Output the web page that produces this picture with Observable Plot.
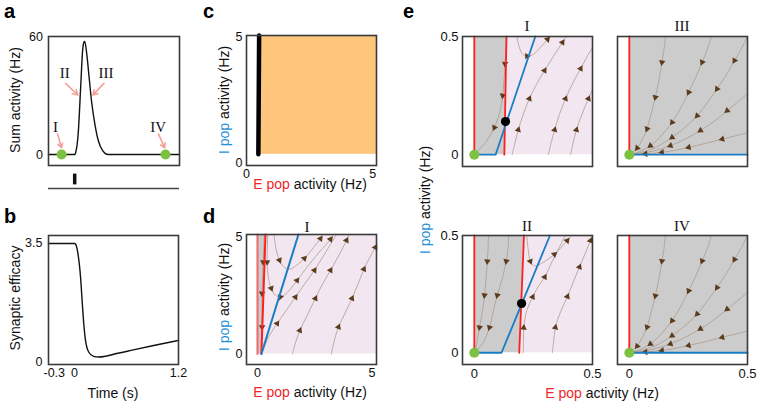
<!DOCTYPE html>
<html><head><meta charset="utf-8">
<script src="https://cdn.jsdelivr.net/npm/d3@7"></script>
<script src="https://cdn.jsdelivr.net/npm/@observablehq/plot@0.6"></script>
<style>
body{margin:0;background:#fff}
#fig{position:relative;width:760px;height:405px;overflow:hidden;background:#fff;font-family:"Liberation Sans",Arial,sans-serif}
#fig svg{position:absolute;left:0;top:0}
.lbl{position:absolute;white-space:nowrap;line-height:1;font-size:14px;color:#111;transform:translate(-50%,-50%)}
.rot{transform:translate(-50%,-50%) rotate(-90deg)}
.ser{font-family:"Liberation Serif","Times New Roman",serif;font-size:15px}
.let{position:absolute;font-weight:bold;font-size:20px;line-height:1;color:#000}
.E{color:#f0262b}.Ip{color:#2290d8}
</style></head><body><div id="fig"></div>
<script>
// ---------- data ----------
// panel a : summed activity vs time
const aTime = [-0.3,-0.05,0,0.012,0.04,0.07,0.09,0.105,0.115,0.138,0.165,0.192,0.23,0.27,0.32,0.38,1.2];
const aSum  = [0,0,0,1.2,10.7,36,53,57.5,58,51.6,39.6,27.7,15.9,7.2,2,0,0];
const aDotTime = [-0.15, 1.04];
const aDotSum = [0, 0];
const aLabelText = ["I","II","III","IV"];
const aLabelTime = [-0.219,-0.115,0.358,0.957];
const aLabelSum = [13.8,41.5,41.5,13.8];
const aArrowT1 = [-0.196,-0.104,0.335,0.96];
const aArrowS1 = [10.5,36.5,36.5,10.5];
const aArrowT2 = [-0.152,0.035,0.208,1.03];
const aArrowS2 = [3.5,30.5,30.5,3.5];
const stimOnset = [0];
const aTicksY = [0, 60];

// panel b : synaptic efficacy
const bTime = [-0.3,-0.1,0,0.01,0.04,0.07,0.088,0.107,0.127,0.165,0.22,0.28,0.5,0.68,0.9,1.2];
const bEff  = [3.5,3.5,3.5,3.49,3.2,2.5,1.82,1.14,0.65,0.3,0.18,0.16,0.27,0.37,0.49,0.65];
const bTicksX = [0, 1.2];
const bTickStart = [-0.3];
const bTicksY = [0, 3.5];

// panel c
const cRegionE = [0.44, 5.15];
const cRegionI = [0.36, 5.05];
const cLineE = [0.47, 0.5];
const cLineI = [0.36, 5.05];
const cTicks = [0, 5];

// panel d
const dRedE = [0.17, 0.35];
const dRedI = [0, 5.1];
const dBlueE = [0.17, 1.79];
const dBlueI = [0, 5.1];
const dTicks = [0, 5];
const dStreams = [
 [[0.3,5.1],[0.27,4.5],[0.25,3.92,1],[0.22,3.2],[0.2,2.58,1],[0.2,1.8],[0.2,1.15,1],[0.19,0.5],[0.17,0.05]],
 [[0.45,5.1],[0.43,4.5],[0.42,3.92,1],[0.47,3.3],[0.6,2.8,1],[0.78,2.52],[1.0,2.43,1],[1.3,2.62],[1.73,3.14,1],[2.2,3.75],[2.7,4.35],[3.19,4.9,1],[3.3,5.1]],
 [[0.72,5.1],[0.82,4.45],[0.96,4.0,1],[1.15,3.72],[1.4,3.62],[1.7,3.78],[2.05,4.08,1],[2.45,4.55],[2.75,4.92,1],[2.85,5.1]],
 [[0.22,0.1],[0.5,0.75],[0.86,1.3,1],[1.25,1.85],[1.66,2.43,1],[2.07,3.0],[2.49,3.57,1],[2.95,4.3],[3.45,5.1]],
 [[1.53,0],[1.65,0.45],[1.85,1.0,1],[2.2,1.7],[2.53,2.37,1],[2.85,3.0],[3.19,3.57,1],[3.55,4.2],[3.89,4.85,1],[4.0,5.1]],
 [[3.23,0],[3.35,0.55],[3.54,1.15,1],[3.83,1.75],[4.13,2.37,1],[4.4,3.0],[4.65,3.62,1],[4.9,4.1],[5.15,4.55,1],[5.3,4.8]]
];

// panel e
const eTicks = [0, 0.5];
const eRedI = [0, 0.5];
const eIRedE = [0.127, 0.136];
const eIBlueE = [0, 0.09, 0.258];
const eBlueI = [0, 0, 0.5];
const eIFixed = [0.132, 0.14];
const eIIRedE = [0.19, 0.21];
const eIIBlueE = [0, 0.115, 0.32];
const eIIFixed = [0.2, 0.21];
const eIStreams = [
 [[0.135,0.5],[0.133,0.44],[0.13,0.385,1],[0.126,0.32],[0.12,0.25,1],[0.108,0.18],[0.085,0.115,1],[0.05,0.055],[0.008,0.008]],
 [[0.18,0.5],[0.19,0.455],[0.205,0.425],[0.223,0.417,1],[0.25,0.425],[0.28,0.455],[0.31,0.488,1],[0.32,0.5]],
 [[0.16,0],[0.172,0.05],[0.186,0.105,1],[0.207,0.17],[0.233,0.237,1],[0.263,0.298],[0.297,0.356,1],[0.335,0.416],[0.373,0.475,1],[0.39,0.5]],
 [[0.313,0],[0.325,0.05],[0.34,0.105,1],[0.36,0.17],[0.386,0.237,1],[0.415,0.3],[0.45,0.364,1],[0.48,0.42],[0.51,0.47]],
 [[0.407,0],[0.418,0.05],[0.432,0.105,1],[0.455,0.17],[0.483,0.237,1],[0.51,0.3]]
];
const eIIStreams = [
 [[0.06,0.5],[0.058,0.44],[0.055,0.39,1],[0.05,0.32],[0.043,0.245,1],[0.034,0.175],[0.022,0.108,1],[0.01,0.04],[0.003,0.005]],
 [[0.145,0.5],[0.142,0.44],[0.135,0.39,1],[0.118,0.315],[0.097,0.245,1],[0.08,0.175],[0.064,0.108,1],[0.035,0.04],[0.005,0.005]],
 [[0.222,0.5],[0.228,0.44],[0.237,0.39,1],[0.255,0.37],[0.29,0.385],[0.339,0.42,1],[0.37,0.452],[0.393,0.478,1],[0.41,0.5]],
 [[0.207,0],[0.208,0.05],[0.209,0.107,1],[0.222,0.18],[0.247,0.238,1],[0.272,0.285],[0.298,0.323,1],[0.33,0.39],[0.36,0.45],[0.385,0.5]],
 [[0.33,0],[0.336,0.05],[0.343,0.108,1],[0.365,0.175],[0.394,0.24,1],[0.42,0.305],[0.445,0.366,1],[0.47,0.425],[0.491,0.478,1],[0.5,0.5]]
];
const eSinkStreams = [
 [[0.153,0.5],[0.146,0.44],[0.138,0.391,1],[0.126,0.32],[0.11,0.243,1],[0.093,0.175],[0.075,0.109,1],[0.05,0.055],[0.033,0.028,1],[0.008,0.005]],
 [[0.347,0.5],[0.33,0.445],[0.308,0.391,1],[0.281,0.327],[0.251,0.264,1],[0.218,0.198],[0.181,0.137,1],[0.135,0.08],[0.089,0.038,1],[0.045,0.014],[0.008,0.002]],
 [[0.5,0.5],[0.475,0.45],[0.445,0.398,1],[0.41,0.337],[0.371,0.278,1],[0.33,0.22],[0.287,0.165,1],[0.235,0.115],[0.181,0.073,1],[0.11,0.03],[0.05,0.01],[0.008,0.001]],
 [[0.5,0.258],[0.458,0.222],[0.414,0.186,1],[0.36,0.142],[0.301,0.102,1],[0.24,0.068],[0.174,0.038,1],[0.1,0.015],[0.04,0.004],[0.008,0]],
 [[0.5,0.093],[0.45,0.08],[0.393,0.066,1],[0.32,0.047],[0.251,0.031,1],[0.19,0.018],[0.138,0.01,1],[0.068,0.003,1],[0.01,0]]
];

// ---------- helpers ----------
const W = 760, H = 405;
const fig = document.getElementById("fig");
const C = {red:"#ff1f1f", blue:"#1a7cc4", gray:"#cccccc", pink:"#f2e6f0", green:"#7dc142",
           flow:"#a89a8a", head:"#5b3b1b", frame:"#3a3a3a", orange:"#fdc67c", salmon:"#f4a096"};
const FONT = '"Liberation Sans", Arial, sans-serif';

function axisOpt(dom, ticks, pad) {
  return ticks ? {domain: dom, label: null, ticks, tickSize: 0, tickPadding: pad, tickFormat: d => String(d)}
               : {domain: dom, label: null, axis: null};
}
function panel(frame, xdom, ydom, xt, yt, fs, marks, ypad = 4, xpad = 4) {
  const [l, t, r, b] = frame;
  const svg = Plot.plot({
    width: W, height: H, marginLeft: l, marginTop: t, marginRight: W - r, marginBottom: H - b,
    style: {background: "transparent", overflow: "visible", fontFamily: FONT, fontSize: fs + "px", color: "#111"},
    x: axisOpt(xdom, xt, xpad), y: axisOpt(ydom, yt, ypad),
    marks
  });
  fig.appendChild(svg);
}
function flat(streams) {
  const out = [];
  streams.forEach((s, k) => s.forEach(p => out.push({E: p[0], I: p[1], k})));
  return out;
}
function heads(streams, kx, ky) {
  const out = [];
  streams.forEach(s => s.forEach((p, i) => {
    if (p[2]) {
      const a = s[Math.max(i - 1, 0)], b = s[Math.min(i + 1, s.length - 1)];
      out.push({E: p[0], I: p[1], ang: Math.atan2((b[0] - a[0]) * kx, (b[1] - a[1]) * ky) * 180 / Math.PI});
    }
  }));
  return out;
}
function flow(streams, frame, xdom, ydom) {
  const kx = (frame[2] - frame[0]) / (xdom[1] - xdom[0]);
  const ky = (frame[3] - frame[1]) / (ydom[1] - ydom[0]);
  return [
    Plot.line(flat(streams), {x: "E", y: "I", z: "k", curve: "catmull-rom", stroke: C.flow, strokeWidth: 0.75, clip: true}),
    Plot.dot(heads(streams, kx, ky), {x: "E", y: "I", rotate: "ang", symbol: "triangle", r: 2.4, fill: C.head})
  ];
}
const zip = (xs, ys) => xs.map((x, i) => ({E: x, I: ys[i]}));
function label(html, cx, cy, cls = "") {
  const d = document.createElement("div");
  d.className = "lbl " + cls;
  d.style.left = cx + "px"; d.style.top = cy + "px";
  d.innerHTML = html;
  fig.appendChild(d);
}
function letter(ch, x, y) {
  const d = document.createElement("div");
  d.className = "let"; d.style.left = x + "px"; d.style.top = y + "px";
  d.textContent = ch; fig.appendChild(d);
}

// ---------- panel a ----------
const aFrame = [48, 36, 179, 165], tDom = [-0.3, 1.2], aDom = [-5.6, 60.5];
const aData = aTime.map((t, i) => ({t, v: aSum[i]}));
const aDots = aDotTime.map((t, i) => ({t, v: aDotSum[i]}));
const aLab = aLabelText.map((s, i) => ({s, t: aLabelTime[i], v: aLabelSum[i]}));
const aArr = aArrowT1.map((t, i) => ({t1: t, v1: aArrowS1[i], t2: aArrowT2[i], v2: aArrowS2[i]}));
panel(aFrame, tDom, aDom, null, aTicksY, 12.5, [
  Plot.line(aData, {x: "t", y: "v", curve: "monotone-x", stroke: "#111", strokeWidth: 1.4}),
  Plot.arrow(aArr, {x1: "t1", y1: "v1", x2: "t2", y2: "v2", stroke: C.salmon, strokeWidth: 1.6, headLength: 6}),
  Plot.dot(aDots, {x: "t", y: "v", r: 5, fill: C.green}),
  Plot.text(aLab, {x: "t", y: "v", text: "s", fontFamily: '"Liberation Serif", serif', fontSize: 15, fill: "#111"}),
  Plot.frame({stroke: C.frame, strokeWidth: 1.6})
], 5.5);
// stimulus bar
panel([48, 170, 179, 188], tDom, [0, 1], null, null, 12, [
  Plot.ruleY([0], {stroke: "#444", strokeWidth: 1.5}),
  Plot.ruleX(stimOnset, {y1: 0.2, y2: 0.8, stroke: "#111", strokeWidth: 3.5})
]);

// ---------- panel b ----------
const bData = bTime.map((t, i) => ({t, v: bEff[i]}));
panel([48, 235, 178, 364], tDom, [-0.06, 3.735], bTicksX, bTicksY, 12.5, [
  Plot.line(bData, {x: "t", y: "v", curve: "monotone-x", stroke: "#111", strokeWidth: 1.4}),
  Plot.text(bTickStart, {x: d => d, frameAnchor: "bottom", lineAnchor: "top", textAnchor: "start", dx: -5, dy: 4, text: d => String(d), fill: "#111"}),
  Plot.frame({stroke: C.frame, strokeWidth: 1.6})
], 6, 4);

// ---------- panel c ----------
panel([246, 35, 376, 165], [0, 5.15], [-0.08, 5.05], cTicks, cTicks, 12.5, [
  Plot.rect([{E1: cRegionE[0], E2: cRegionE[1], I1: cRegionI[0], I2: cRegionI[1]}], {x1: "E1", x2: "E2", y1: "I1", y2: "I2", fill: C.orange}),
  Plot.line(zip(cLineE, cLineI), {x: "E", y: "I", stroke: "#000", strokeWidth: 4.5}),
  Plot.frame({stroke: C.frame, strokeWidth: 1.6})
]);

// ---------- panel d ----------
const dFrame = [246, 234, 376, 364], dX = [-0.48, 5.2], dY = [-0.45, 5.1];
const dRed = zip(dRedE, dRedI);
panel(dFrame, dX, dY, dTicks, dTicks, 12.5, [
  Plot.areaX(dRed, {y: "I", x1: "E", x2: dX[1], fill: C.pink}),
  Plot.areaX(dRed, {y: "I", x1: 0, x2: "E", fill: C.gray}),
  ...flow(dStreams, dFrame, dX, dY),
  Plot.line(zip([0, 0], dRedI), {x: "E", y: "I", stroke: "#f06060", strokeWidth: 2.2, strokeOpacity: 0.85}),
  Plot.line(dRed, {x: "E", y: "I", stroke: C.red, strokeWidth: 2}),
  Plot.line(zip(dBlueE, dBlueI), {x: "E", y: "I", stroke: C.blue, strokeWidth: 2}),
  Plot.frame({stroke: C.frame, strokeWidth: 1.6})
]);

// ---------- panel e ----------
const eDom = [-0.05, 0.5];
function ePanel(frame, redE, blueE, fixed, streams, xt, yt) {
  const marks = [];
  if (redE) {
    const red = zip(redE, eRedI);
    marks.push(Plot.areaX(red, {y: "I", x1: "E", x2: eDom[1], fill: C.pink}));
    marks.push(Plot.areaX(red, {y: "I", x1: 0, x2: "E", fill: C.gray}));
  } else {
    marks.push(Plot.areaX(zip([0, 0], eRedI), {y: "I", x1: 0, x2: eDom[1], fill: C.gray}));
  }
  marks.push(...flow(streams, frame, eDom, eDom));
  marks.push(Plot.line(zip([0, 0], eRedI), {x: "E", y: "I", stroke: C.red, strokeWidth: 1.8}));
  if (redE) marks.push(Plot.line(zip(redE, eRedI), {x: "E", y: "I", stroke: C.red, strokeWidth: 1.8}));
  marks.push(Plot.line(blueE ? zip(blueE, eBlueI) : zip([0, eDom[1]], [0, 0]), {x: "E", y: "I", stroke: C.blue, strokeWidth: 1.8}));
  if (fixed) marks.push(Plot.dot([{E: fixed[0], I: fixed[1]}], {x: "E", y: "I", r: 4.6, fill: "#000"}));
  marks.push(Plot.dot([{E: 0, I: 0}], {x: "E", y: "I", r: 5, fill: C.green}));
  marks.push(Plot.frame({stroke: C.frame, strokeWidth: 1.6}));
  panel(frame, eDom, eDom, xt, yt, 13, marks);
}
ePanel([462, 36, 592, 166], eIRedE, eIBlueE, eIFixed, eIStreams, null, eTicks);
ePanel([617, 36, 747, 166], null, null, null, eSinkStreams, null, null);
ePanel([462, 235, 592, 364], eIIRedE, eIIBlueE, eIIFixed, eIIStreams, eTicks, eTicks);
ePanel([617, 235, 747, 364], null, null, null, eSinkStreams, eTicks, null);

// ---------- text ----------
label("Sum activity (Hz)", 15, 100, "rot");
label("Synaptic efficacy", 15, 298, "rot");
label("Time (s)", 113, 393);
label('<span class="Ip">I pop</span> activity (Hz)', 224, 100, "rot");
label('<span class="E">E pop</span> activity (Hz)', 310, 184);
label('<span class="Ip">I pop</span> activity (Hz)', 224, 297, "rot");
label('<span class="E">E pop</span> activity (Hz)', 310, 392);
label('<span class="Ip">I pop</span> activity (Hz)', 425, 200, "rot");
label('<span class="E">E pop</span> activity (Hz)', 602, 393);
label("I", 307, 227, "ser");
label("I", 527, 26, "ser");
label("III", 682, 26, "ser");
label("II", 527, 226, "ser");
label("IV", 682, 226, "ser");
letter("a", 4, 1);
letter("b", 4, 206);
letter("c", 203, 1);
letter("d", 203, 206);
letter("e", 403, 1);
</script></body></html>
